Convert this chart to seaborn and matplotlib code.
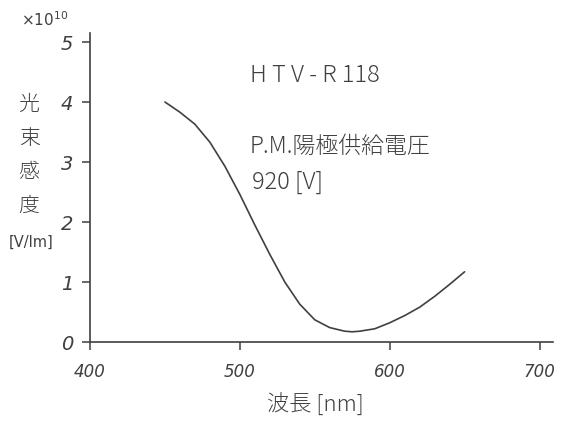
import matplotlib
matplotlib.use("Agg")
import matplotlib.pyplot as plt
import seaborn as sns
import pandas as pd

# Spectral sensitivity of the HTV-R118 photomultiplier
wavelength_nm = [450, 460, 470, 480, 490, 500, 510, 520, 530, 540, 550,
                 560, 570, 575, 580, 590, 600, 610, 620, 630, 640, 650]
sensitivity_e10 = [4.00, 3.83, 3.63, 3.33, 2.93, 2.46, 1.95, 1.46, 1.00, 0.63, 0.37,
                   0.24, 0.18, 0.17, 0.18, 0.22, 0.32, 0.44, 0.58, 0.76, 0.96, 1.17]

x_ticks = [400, 500, 600, 700]
y_ticks = [0, 1, 2, 3, 4, 5]

sns.set_theme(style="white")
plt.rcParams["font.family"] = ["Noto Sans CJK JP", "DejaVu Sans"]

ink = "#404040"
df = pd.DataFrame({"wavelength": wavelength_nm, "sensitivity": sensitivity_e10})

fig = plt.figure(figsize=(5.61, 4.24), dpi=100)
ax = fig.add_axes([90 / 561, 1 - 342 / 424, (553 - 90) / 561, (342 - 33) / 424])

sns.lineplot(data=df, x="wavelength", y="sensitivity", ax=ax,
             color=ink, linewidth=1.2)

ax.set_xlim(400, 709)
ax.set_ylim(0, 5.15)
ax.set_xticks(x_ticks)
ax.set_yticks(y_ticks)
ax.set_xlabel("")
ax.set_ylabel("")

for side in ("top", "right"):
    ax.spines[side].set_visible(False)
for side in ("left", "bottom"):
    ax.spines[side].set_color(ink)
    ax.spines[side].set_linewidth(1.2)

ax.tick_params(axis="both", colors=ink, direction="out", length=6, width=1.1,
               left=True, bottom=True)
ax.tick_params(axis="x", pad=9, labelsize=12, labelcolor=ink)
ax.tick_params(axis="y", pad=6, labelsize=14, labelcolor=ink)
for lab in ax.get_xticklabels() + ax.get_yticklabels():
    lab.set_fontstyle("italic")
    lab.set_family(["DejaVu Sans"])

def ftext(px, py, s, **kw):
    fig.text(px / 561, 1 - py / 424, s, color=ink, **kw)

ftext(45, 20, r"×10$^{10}$", fontsize=11, ha="center", va="center",
      family=["DejaVu Sans"])
ftext(29, 155, "光\n束\n感\n度", fontsize=15, ha="center", va="center",
      linespacing=1.7, fontweight="light")
ftext(31, 242, "[V/lm]", fontsize=10.5, ha="center", va="center",
      family=["DejaVu Sans"])
ftext(315, 405, "波長 [nm]", fontsize=16, ha="center", va="center",
      fontweight="light")
ftext(315, 76, "H T V - R 118", fontsize=17, ha="center", va="center",
      fontweight="light")
ftext(250, 146, "P.M.陽極供給電圧", fontsize=16.5, ha="left", va="center",
      fontweight="light")
ftext(252, 182, "920 [V]", fontsize=17, ha="left", va="center",
      fontweight="light")

fig.savefig("out.png", dpi=100, facecolor="white")
